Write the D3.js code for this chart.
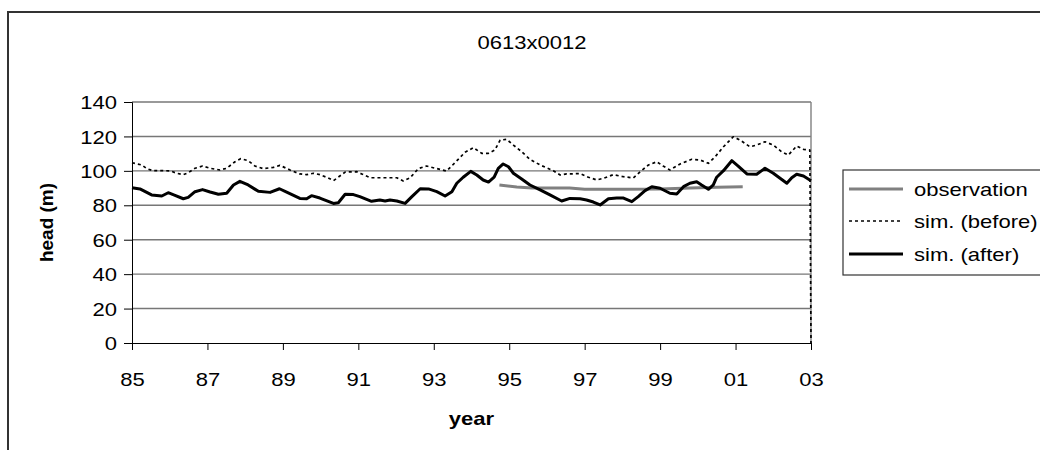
<!DOCTYPE html>
<html>
<head>
<meta charset="utf-8">
<script src="https://cdn.jsdelivr.net/npm/d3@7"></script>
<style>
  body { margin: 0; background: #fff; }
  svg { display: block; font-family: "Liberation Sans", Arial, sans-serif; }
</style>
</head>
<body>
<svg id="chart" width="1040" height="450"></svg>
<script>
// ---- data (year as decimal, value = head in m) ----
const chartTitle = "0613x0012";
const yTicks = [0, 20, 40, 60, 80, 100, 120, 140];
const xTickYears = [85, 87, 89, 91, 93, 95, 97, 99, 101, 103];
const xTickLabels = ["85", "87", "89", "91", "93", "95", "97", "99", "01", "03"];
const seriesNames = ["observation", "sim. (before)", "sim. (after)"];

const observation = [
  [94.74, 91.8], [95.2, 90.6], [95.6, 90.0], [96.0, 90.0], [96.6, 90.0], [97.0, 89.3],
  [98.0, 89.3], [99.0, 89.4], [99.8, 90.0], [100.5, 90.5], [101.19, 90.8]
];

const simBefore = [
  [85.00,104.7],[85.26,103.4],[85.39,101.3],[85.56,100.1],[85.83,100.1],[86.01,100],[86.19,98.6],
  [86.36,97.8],[86.49,98.9],[86.67,101.5],[86.87,102.8],[87.07,101.5],[87.33,100.5],[87.51,101.5],
  [87.73,105.3],[87.88,107.1],[88.08,105.9],[88.26,102.8],[88.48,101.3],[88.75,102],[88.92,103.2],
  [89.19,100.5],[89.45,98.2],[89.63,97.8],[89.81,98.6],[89.98,97.8],[90.20,95.9],[90.34,94.3],
  [90.51,97],[90.65,99.3],[90.96,99.5],[91.09,98.2],[91.31,96],[91.66,96],[92.02,96],[92.19,94.1],
  [92.37,95.9],[92.59,101.3],[92.81,102.8],[93.08,101.3],[93.34,99.9],[93.56,104.7],[93.83,110.8],
  [94.05,113.5],[94.27,110.2],[94.45,110.2],[94.62,112.1],[94.76,117.9],[94.93,118.3],[95.11,115],
  [95.33,111.1],[95.55,106.7],[95.82,103.4],[96.17,100.1],[96.35,97.6],[96.52,98.2],[96.88,98.4],
  [97.10,96.3],[97.32,94.7],[97.50,95.7],[97.76,97.8],[98.03,96.6],[98.29,95.9],[98.47,99.5],
  [98.69,103.4],[98.91,105.3],[99.08,102.8],[99.26,100.5],[99.53,104],[99.84,106.7],[100.06,106.3],
  [100.28,104.4],[100.46,108.2],[100.68,114],[100.94,119.8],[101.12,117.9],[101.38,114],[101.56,115],
  [101.78,116.9],[102.00,115],[102.22,111.1],[102.40,109.2],[102.62,114.4],[102.80,112.5],
  [102.97,112.1],[103.00,0]
];

const simAfter = [
  [85.00,90.2],[85.21,89.5],[85.52,86],[85.79,85.4],[85.96,87.3],[86.14,85.8],[86.36,83.8],
  [86.49,84.6],[86.67,87.9],[86.87,89.1],[87.07,87.7],[87.29,86.4],[87.51,87],[87.69,91.8],
  [87.86,93.9],[88.08,91.8],[88.35,88.1],[88.66,87.5],[88.91,89.6],[89.10,87.7],[89.45,84],
  [89.63,83.8],[89.76,85.6],[89.98,84.2],[90.34,81.1],[90.47,81.5],[90.65,86.4],[90.87,86.2],
  [91.04,85],[91.35,82.3],[91.57,83.1],[91.71,82.5],[91.84,83.1],[92.02,82.5],[92.24,81.1],
  [92.42,85],[92.64,89.6],[92.86,89.5],[93.08,87.9],[93.30,85.4],[93.48,87.9],[93.61,92.8],
  [93.78,96.3],[93.98,99.7],[94.14,97.6],[94.31,94.7],[94.45,93.5],[94.60,96.3],[94.71,101.5],
  [94.84,104],[94.98,102.4],[95.11,98.6],[95.33,95.3],[95.55,91.8],[95.82,88.9],[96.08,86],
  [96.39,82.5],[96.61,84],[96.88,83.8],[97.05,83.1],[97.23,81.9],[97.41,80.2],[97.63,83.8],
  [97.85,84.2],[98.03,84.2],[98.25,82.1],[98.42,85],[98.60,88.5],[98.78,90.8],[99.00,89.9],
  [99.26,87],[99.44,86.6],[99.62,90.8],[99.79,92.8],[99.97,93.7],[100.10,91.8],[100.28,89.3],
  [100.41,91.8],[100.50,96.3],[100.68,100.1],[100.90,105.9],[101.07,102.8],[101.30,98.2],
  [101.56,98],[101.78,101.5],[102.00,98.6],[102.18,95.7],[102.36,92.8],[102.49,96],[102.62,98],
  [102.80,97],[103.00,94.3]
];

// ---- layout ----
const SX = 1.16;      // horizontal stretch of the reference's lettering
const FONT = 19;
const svg = d3.select("#chart");
const plot = { left: 132, right: 811, top: 102, bottom: 343 };

const x = d3.scaleLinear().domain([85, 103]).range([plot.left, plot.right]);
const y = d3.scaleLinear().domain([0, 140]).range([plot.bottom, plot.top]);

function stretchedText(parent, tx, ty, str, opts = {}) {
  return parent.append("text")
    .attr("transform", `translate(${tx},${ty}) scale(${SX},1)`)
    .attr("text-anchor", opts.anchor || "start")
    .attr("font-size", opts.size || FONT)
    .attr("font-weight", opts.weight || "normal")
    .attr("fill", "#000")
    .text(str);
}

// outer frame
svg.append("rect")
  .attr("x", 8).attr("y", 12).attr("width", 1100).attr("height", 500)
  .attr("fill", "none").attr("stroke", "#333").attr("stroke-width", 2);

// title
stretchedText(svg, 532, 49, chartTitle, { anchor: "middle", size: 19 });

// gridlines
svg.append("g")
  .selectAll("line")
  .data(yTicks.filter(d => d > 0))
  .join("line")
  .attr("x1", plot.left).attr("x2", plot.right)
  .attr("y1", d => y(d)).attr("y2", d => y(d))
  .attr("stroke", "#777").attr("stroke-width", 1.4);

// right plot border
svg.append("line")
  .attr("x1", plot.right).attr("x2", plot.right)
  .attr("y1", plot.top).attr("y2", plot.bottom)
  .attr("stroke", "#808080").attr("stroke-width", 1.4);

// y axis
const yAxis = d3.axisLeft(y).tickValues(yTicks).tickSize(8).tickPadding(7).tickFormat(d3.format("d"));
const gy = svg.append("g").attr("transform", `translate(${plot.left},0)`).call(yAxis);
gy.select(".domain").attr("stroke", "#000");
gy.selectAll(".tick line").attr("stroke", "#000");
gy.selectAll(".tick text")
  .attr("font-size", FONT).attr("font-family", "Liberation Sans, Arial, sans-serif").attr("fill", "#000")
  .attr("x", null).attr("dy", "0.35em")
  .attr("transform", `translate(-15,0) scale(${SX},1)`);

// x axis
const xAxis = d3.axisBottom(x).tickValues(xTickYears).tickSize(7).tickPadding(0)
  .tickFormat((d, i) => xTickLabels[i]);
const gx = svg.append("g").attr("transform", `translate(0,${plot.bottom})`).call(xAxis);
gx.select(".domain").attr("stroke", "#000");
gx.selectAll(".tick line").attr("stroke", "#000");
gx.selectAll(".tick text")
  .attr("font-size", FONT).attr("font-family", "Liberation Sans, Arial, sans-serif").attr("fill", "#000")
  .attr("y", null).attr("dy", null)
  .attr("transform", `translate(0,43) scale(${SX},1)`);

// axis titles
stretchedText(svg, (plot.left + plot.right) / 2, 425, "year", { anchor: "middle", weight: "bold", size: 19 });
svg.append("text")
  .attr("transform", `translate(53,${(plot.top + plot.bottom) / 2}) rotate(-90)`)
  .attr("text-anchor", "middle").attr("font-size", 19).attr("font-weight", "bold")
  .text("head (m)");

// lines
const line = d3.line().x(d => x(d[0])).y(d => y(d[1]));
const styles = [
  { data: observation, stroke: "#808080", width: 3, dash: null },
  { data: simBefore, stroke: "#000", width: 1.7, dash: "3,3" },
  { data: simAfter, stroke: "#000", width: 3, dash: null }
];
styles.forEach(s => {
  svg.append("path")
    .datum(s.data)
    .attr("d", line)
    .attr("fill", "none")
    .attr("stroke", s.stroke)
    .attr("stroke-width", s.width)
    .attr("stroke-linejoin", "round")
    .attr("stroke-dasharray", s.dash);
});

// legend
const lg = svg.append("g");
lg.append("rect")
  .attr("x", 843).attr("y", 170).attr("width", 250).attr("height", 105)
  .attr("fill", "#fff").attr("stroke", "#333").attr("stroke-width", 1.2);
const legendY = [189, 221, 254];
styles.forEach((s, i) => {
  lg.append("line")
    .attr("x1", 849).attr("x2", 903)
    .attr("y1", legendY[i]).attr("y2", legendY[i])
    .attr("stroke", s.stroke).attr("stroke-width", s.width)
    .attr("stroke-dasharray", s.dash);
  stretchedText(lg, 914, legendY[i] + 7, seriesNames[i], { size: FONT });
});
</script>
</body>
</html>
